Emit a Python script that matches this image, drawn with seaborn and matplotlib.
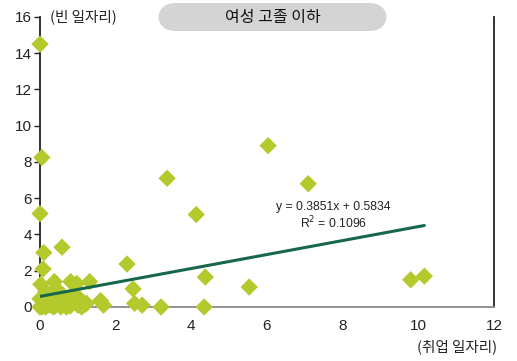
"""Scatter of vacancies vs employment jobs, women with high-school education or less."""
import numpy as np
import pandas as pd
import matplotlib.pyplot as plt
import seaborn as sns
from matplotlib.patches import FancyBboxPatch

# values
jobs = [0.0, 0.05, 0.0, 0.1, 0.08, 0.58, 3.36, 4.13, 6.03, 7.09,
        2.3, 2.46, 4.37, 5.53, 9.8, 10.16, 2.5, 2.7, 3.2, 4.34,
        1.6, 1.68, 0.02, 0.38, 0.44, 0.81, 0.97, 1.31, 1.23, 0.9,
        0.0, 0.05, 0.1, 0.15, 0.2, 0.25, 0.3, 0.35, 0.4, 0.5,
        0.55, 0.6, 0.65, 0.7, 0.75, 0.8, 0.85, 1.0, 1.1, 1.2,
        0.0, 0.1, 0.2, 0.3, 0.45, 0.6, 0.7, 0.9, 0.05, 0.25,
        0.15, 0.35, 0.5, 0.8, 1.05, 0.12, 0.4, 0.65]
vacancies = [14.5, 8.25, 5.15, 3.0, 2.1, 3.3, 7.1, 5.1, 8.9, 6.8,
             2.37, 1.0, 1.65, 1.1, 1.5, 1.7, 0.2, 0.1, 0.0, 0.0,
             0.35, 0.1, 1.25, 1.4, 1.0, 1.4, 1.3, 1.4, 0.2, 0.7,
             0.0, 0.1, 0.2, 0.0, 0.35, 0.1, 0.5, 0.0, 0.3, 0.15,
             0.0, 0.4, 0.1, 0.0, 0.25, 0.05, 0.3, 0.1, 0.0, 0.15,
             0.45, 0.6, 0.55, 0.7, 0.6, 0.65, 0.35, 0.3, 0.0, 0.4,
             0.85, 0.9, 0.5, 0.55, 0.45, 0.3, 0.05, 0.2]
slope, intercept = 0.3851, 0.5834
eq_text = "y = 0.3851x + 0.5834"
r2_text = "R$^2$ = 0.1096"
title = "여성 고졸 이하"
ylabel = "(빈 일자리)"
xlabel = "(취업 일자리)"

GREEN = "#b3c92c"
LINE = "#17684a"
INK = "#222222"

sns.set_style("white")
plt.rcParams["font.family"] = ["Liberation Sans Narrow", "Liberation Sans", "DejaVu Sans"]
KR = ["Noto Sans CJK KR", "DejaVu Sans"]

df = pd.DataFrame({"jobs": jobs, "vacancies": vacancies})

fig = plt.figure(figsize=(5.17, 3.61), dpi=100)
ax = fig.add_axes([0.0774, 0.1496, 0.878, 0.8034])

sns.scatterplot(data=df, x="jobs", y="vacancies", ax=ax, marker="D", s=78,
                color=GREEN, edgecolor="none", linewidth=0, clip_on=False, zorder=3)

# trend line from the printed equation
xs = np.array([min(jobs), max(jobs)])
sns.lineplot(x=xs, y=slope * xs + intercept, ax=ax, color=LINE, linewidth=2.2, zorder=4)

ax.set_xlim(0, 12)
ax.set_ylim(0, 16)
ax.set_xticks(range(0, 13, 2))
ax.set_yticks(range(0, 17, 2))
ax.set_xlabel("")
ax.set_ylabel("")
ax.tick_params(axis="y", length=4, width=1, color=INK, labelsize=11, pad=2, labelcolor=INK)
ax.tick_params(axis="x", length=0, labelsize=11, pad=9, labelcolor=INK)
ax.tick_params(left=True, bottom=False)

ax.spines["top"].set_visible(False)
ax.spines["left"].set_color(INK)
ax.spines["right"].set_color(INK)
ax.spines["bottom"].set_color("#8a8a8a")
for s in ("left", "right", "bottom"):
    ax.spines[s].set_linewidth(1.3)

ax.text(7.75, 5.52, eq_text, fontsize=8.7, color=INK, ha="center", va="center")
ax.text(7.75, 4.63, r2_text, fontsize=8.7, color=INK, ha="center", va="center")

fig.text(50 / 517, 1 - 17 / 361, ylabel, family=KR, fontsize=10.5, color=INK, ha="left", va="center")
fig.text(497 / 517, 1 - 347 / 361, xlabel, family=KR, fontsize=10.5, color=INK, ha="right", va="center")

box = FancyBboxPatch((158 / 517, 1 - 31 / 361), 229 / 517, 28 / 361,
                     boxstyle="round,pad=0,rounding_size=0.035", transform=fig.transFigure,
                     facecolor="#d4d4d4", edgecolor="none", mutation_aspect=517 / 361)
fig.add_artist(box)
fig.text(273 / 517, 1 - 17.5 / 361, title, family=KR, fontsize=11.5, color="#111111",
         ha="center", va="center")

fig.savefig("out.png", dpi=100)
